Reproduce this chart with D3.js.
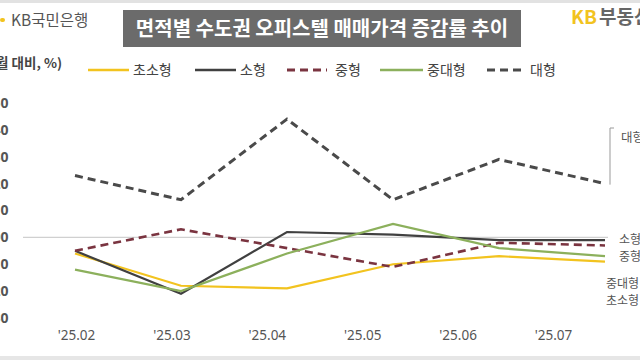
<!DOCTYPE html>
<html>
<head>
<meta charset="utf-8">
<script src="https://cdn.jsdelivr.net/npm/d3@7"></script>
<style>
  body { margin: 0; background: #fff; overflow: hidden; }
  svg { display: block; font-family: "Noto Sans CJK KR", "Noto Sans", sans-serif; }
</style>
</head>
<body>
<div id="plot"></div>
<script>
// months on the x axis
const months = ["'25.02", "'25.03", "'25.04", "'25.05", "'25.06", "'25.07"];

// monthly change (%)
const tiny   = [-0.06, -0.18, -0.19, -0.10, -0.07, -0.09]; // 초소형
const small  = [-0.05, -0.21,  0.02,  0.01, -0.01, -0.01]; // 소형
const medium = [-0.05,  0.03, -0.04, -0.11, -0.02, -0.03]; // 중형
const medLg  = [-0.12, -0.20, -0.06,  0.05, -0.04, -0.07]; // 중대형
const large  = [ 0.23,  0.14,  0.44,  0.14,  0.29,  0.20]; // 대형

const yTicks = [0.5, 0.4, 0.3, 0.2, 0.1, 0, -0.1, -0.2, -0.3];

const series = [
  {name: "초소형", values: tiny,   color: "#f2c31f", dash: null,  width: 2.2},
  {name: "소형",   values: small,  color: "#404040", dash: null,  width: 2.2},
  {name: "중형",   values: medium, color: "#7a3440", dash: "8,5", width: 2.6},
  {name: "중대형", values: medLg,  color: "#8cb05c", dash: null,  width: 2.2},
  {name: "대형",   values: large,  color: "#4a4a4a", dash: "8,5", width: 3}
];

const width = 640, height = 360;

const svg = d3.select("#plot").append("svg")
    .attr("width", width)
    .attr("height", height);

// faint frame at top and bottom
svg.append("rect").attr("x", 0).attr("y", 0).attr("width", width).attr("height", 3).attr("fill", "#e2e2e2");
svg.append("rect").attr("x", 0).attr("y", 356).attr("width", width).attr("height", 4).attr("fill", "#e6e6e6");

// logos
svg.append("rect").attr("x", 0).attr("y", 18).attr("width", 5).attr("height", 4).attr("rx", 2).attr("fill", "#f2c31f");
svg.append("text").attr("x", 11).attr("y", 26)
    .attr("font-size", 15.5).attr("fill", "#555")
    .text("KB국민은행");

const kb = svg.append("text").attr("x", 571).attr("y", 24)
    .attr("font-size", 19).attr("font-weight", "bold");
kb.append("tspan").attr("fill", "#f2c31f").text("KB");
kb.append("tspan").attr("fill", "#666").attr("dx", 2).text("부동산");

// title box
svg.append("rect").attr("x", 123).attr("y", 10).attr("width", 398).attr("height", 37).attr("fill", "#6b6b6b");
svg.append("text").attr("x", 322).attr("y", 36)
    .attr("text-anchor", "middle")
    .attr("font-size", 20).attr("font-weight", "bold").attr("fill", "#fff")
    .text("면적별 수도권 오피스텔 매매가격 증감률 추이");

// unit label (cut off at left, as in the source)
svg.append("text").attr("x", 62).attr("y", 68)
    .attr("text-anchor", "end")
    .attr("font-size", 13.5).attr("font-weight", "bold").attr("fill", "#444")
    .text("(전월 대비, %)");

// scales
const x = d3.scalePoint().domain(months).range([75, 605]);
const xLabel = d3.scalePoint().domain(months).range([76, 553]);
const y = d3.scaleLinear().domain([-0.3, 0.5]).range([318, 103]);

// y axis labels, mostly off the left edge
const yAxis = d3.axisLeft(y).tickValues(yTicks).tickSize(0).tickPadding(0)
    .tickFormat(d3.format(".2f"));
svg.append("g").attr("transform", "translate(8.5,0)").call(yAxis)
    .call(g => g.select(".domain").remove())
    .call(g => g.selectAll("text").attr("font-size", 14).attr("font-weight", "bold")
        .attr("fill", "#555").attr("font-family", "Noto Sans"));

// zero line
svg.append("line")
    .attr("x1", 23).attr("x2", 608)
    .attr("y1", y(0)).attr("y2", y(0))
    .attr("stroke", "#d0d0d0").attr("stroke-width", 1.2);

// x axis labels
const xAxis = d3.axisBottom(xLabel).tickSize(0).tickPadding(0);
svg.append("g").attr("transform", "translate(0,330)").call(xAxis)
    .call(g => g.select(".domain").remove())
    .call(g => g.selectAll("text").attr("font-size", 13.5).attr("fill", "#555")
        .attr("font-family", "Noto Sans"));

// lines
const line = d3.line()
    .x((d, i) => x(months[i]))
    .y(d => y(d));

svg.append("g").selectAll("path")
    .data(series)
    .join("path")
    .attr("d", d => line(d.values))
    .attr("fill", "none")
    .attr("stroke", d => d.color)
    .attr("stroke-width", d => d.width)
    .attr("stroke-dasharray", d => d.dash);

// legend
const legendPos = [
  {lx: 88, tx: 133},
  {lx: 195, tx: 240},
  {lx: 287, tx: 335},
  {lx: 380, tx: 427},
  {lx: 487, tx: 530}
];
const legend = svg.append("g").selectAll("g")
    .data(series)
    .join("g");
legend.append("line")
    .attr("x1", (d, i) => legendPos[i].lx)
    .attr("x2", (d, i) => legendPos[i].tx - (d.dash ? 8 : 4))
    .attr("y1", 70).attr("y2", 70)
    .attr("stroke", d => d.color)
    .attr("stroke-width", d => d.dash ? 3 : 2.6)
    .attr("stroke-dasharray", d => d.dash);
legend.append("text")
    .attr("x", (d, i) => legendPos[i].tx)
    .attr("y", 75)
    .attr("font-size", 14).attr("fill", "#444")
    .text(d => d.name);

// end labels
const endLabels = [
  {text: "소형", x: 619, y: 244},
  {text: "중형", x: 619, y: 261},
  {text: "중대형", x: 606, y: 288},
  {text: "초소형", x: 606, y: 305}
];
svg.append("g").selectAll("text")
    .data(endLabels)
    .join("text")
    .attr("x", d => d.x).attr("y", d => d.y)
    .attr("font-size", 12).attr("fill", "#555")
    .text(d => d.text);

// bracket for 대형
svg.append("path")
    .attr("d", `M614,128 L610,128 L610,${y(large[5]) + 1}`)
    .attr("fill", "none").attr("stroke", "#999").attr("stroke-width", 1);
svg.append("text").attr("x", 621).attr("y", 142)
    .attr("font-size", 12.5).attr("fill", "#555")
    .text("대형");
</script>
</body>
</html>
